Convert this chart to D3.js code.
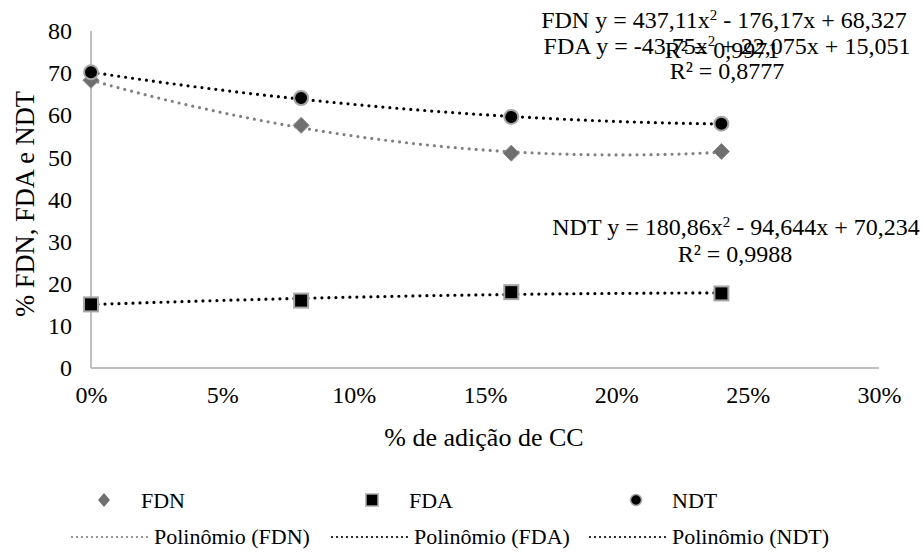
<!DOCTYPE html>
<html>
<head>
<meta charset="utf-8">
<script src="https://cdn.jsdelivr.net/npm/d3@7"></script>
<style>
body { margin: 0; background: #fff; }
.axis path, .axis line { stroke: #bfbfbf; stroke-width: 2; }
</style>
</head>
<body>
<div id="chart"></div>
<script>
/* data */
var doses = [0, 0.08, 0.16, 0.24];
var fdn = [68.3, 57.6, 51.0, 51.4];
var fda = [15.1, 16.0, 18.0, 17.7];
var ndt = [70.2, 64.1, 59.6, 58.0];

/* trendline coefficients as printed on the chart (a, b, c for ax2 + bx + c) */
var fdnCoef = [437.11, -176.17, 68.327];
var fdaCoef = [-43.75, 22.075, 15.051];
var ndtCoef = [180.86, -94.644, 70.234];

var fdnEq = ["FDN y = 437,11x", "2", " - 176,17x + 68,327"];
var fdaEq = ["FDA y = -43,75x", "2", " + 22,075x + 15,051"];
var ndtEq = ["NDT y = 180,86x", "2", " - 94,644x + 70,234"];
var r2Labels = ["R² = 0,9971", "R² = 0,8777", "R² = 0,9988"];

var xTicks = [0, 0.05, 0.10, 0.15, 0.20, 0.25, 0.30];
var yTicks = [0, 10, 20, 30, 40, 50, 60, 70, 80];

var w = 923;
var h = 555;

var svg = d3.select("#chart").append("svg").attr("width", w).attr("height", h);

var xScale = d3.scaleLinear()
	.domain([0, 0.30])
	.range([91, 879]);

var yScale = d3.scaleLinear()
	.domain([0, 80])
	.range([368, 31]);

/* axes */
var xAxis = d3.axisBottom(xScale).tickValues(xTicks).tickSize(0).tickPadding(18)
	.tickFormat(function (d) { return Math.round(d * 100) + "%"; });
var yAxis = d3.axisLeft(yScale).tickValues(yTicks).tickSize(0).tickPadding(19);

svg.append("g")
	.attr("class", "axis")
	.attr("transform", "translate(0," + yScale(0) + ")")
	.call(xAxis)
	.call(function (g) { g.select(".domain").attr("d", "M" + xScale(0) + ",0H" + xScale(0.30)); });

svg.append("g")
	.attr("class", "axis")
	.attr("transform", "translate(" + xScale(0) + ",0)")
	.call(yAxis)
	.call(function (g) { g.select(".domain").attr("d", "M0," + yScale(80) + "V" + yScale(0)); });

svg.selectAll(".axis").attr("font-family", "Liberation Serif").attr("font-size", 24);
svg.selectAll(".axis text").attr("fill", "#000");

/* axis titles */
svg.append("text")
	.attr("x", 484)
	.attr("y", 446)
	.attr("text-anchor", "middle")
	.attr("font-size", 26)
	.text("% de adição de CC");

svg.append("text")
	.attr("transform", "translate(34," + 204 + ") rotate(-90)")
	.attr("text-anchor", "middle")
	.attr("font-size", 26.5)
	.text("% FDN, FDA e NDT");

/* trendlines */
function poly(c) {
	return function (x) { return c[0] * x * x + c[1] * x + c[2]; };
}

var xs = d3.range(0, 0.2401, 0.004);

var trend = d3.line()
	.x(function (d) { return xScale(d[0]); })
	.y(function (d) { return yScale(d[1]); })
	.curve(d3.curveMonotoneX);

function drawTrend(coef, color) {
	var f = poly(coef);
	svg.append("path")
		.datum(xs.map(function (x) { return [x, f(x)]; }))
		.attr("d", trend)
		.attr("fill", "none")
		.attr("stroke", color)
		.attr("stroke-width", 3.2)
		.attr("stroke-linecap", "round")
		.attr("stroke-dasharray", "0 7");
}

drawTrend(fdnCoef, "#808080");
drawTrend(fdaCoef, "#000");
drawTrend(ndtCoef, "#000");

/* markers */
function pts(vals) {
	return vals.map(function (v, i) { return [doses[i], v]; });
}

svg.append("g").selectAll("path").data(pts(fdn)).enter()
	.append("path")
	.attr("transform", function (d) { return "translate(" + xScale(d[0]) + "," + yScale(d[1]) + ")"; })
	.attr("d", "M0,-8L8,0L0,8L-8,0Z")
	.attr("fill", "#6f6f6f")
	.attr("stroke", "#8a8a8a")
	.attr("stroke-width", 1);

svg.append("g").selectAll("rect").data(pts(fda)).enter()
	.append("rect")
	.attr("x", function (d) { return xScale(d[0]) - 7; })
	.attr("y", function (d) { return yScale(d[1]) - 7; })
	.attr("width", 14)
	.attr("height", 14)
	.attr("fill", "#000")
	.attr("stroke", "#a6a6a6")
	.attr("stroke-width", 2);

svg.append("g").selectAll("circle").data(pts(ndt)).enter()
	.append("circle")
	.attr("cx", function (d) { return xScale(d[0]); })
	.attr("cy", function (d) { return yScale(d[1]); })
	.attr("r", 7)
	.attr("fill", "#000")
	.attr("stroke", "#a6a6a6")
	.attr("stroke-width", 2);

/* equation labels */
function eqLabel(parts, x, y) {
	var t = svg.append("text")
		.attr("x", x)
		.attr("y", y)
		.attr("text-anchor", "middle")
		.attr("font-size", 24);
	t.append("tspan").text(parts[0]);
	t.append("tspan").attr("dy", -8).attr("font-size", 15).text(parts[1]);
	t.append("tspan").attr("dy", 8).text(parts[2]);
}

eqLabel(fdnEq, 724, 28);
eqLabel(fdaEq, 727, 54);
eqLabel(ndtEq, 736, 235);

var r2Pos = [[722, 58], [727, 79], [735, 262]];
svg.append("g").selectAll("text").data(r2Labels).enter()
	.append("text")
	.attr("x", function (d, i) { return r2Pos[i][0]; })
	.attr("y", function (d, i) { return r2Pos[i][1]; })
	.attr("text-anchor", "middle")
	.attr("font-size", 24)
	.text(function (d) { return d; });

/* legend */
var leg = svg.append("g");

leg.append("path")
	.attr("transform", "translate(104,500)")
	.attr("d", "M0,-7L6,0L0,7L-6,0Z")
	.attr("fill", "#6f6f6f");
leg.append("text").attr("x", 141).attr("y", 508).text("FDN");

leg.append("rect")
	.attr("x", 366).attr("y", 494).attr("width", 12).attr("height", 12)
	.attr("fill", "#000").attr("stroke", "#a6a6a6").attr("stroke-width", 1.5);
leg.append("text").attr("x", 409).attr("y", 508).text("FDA");

leg.append("circle")
	.attr("cx", 636).attr("cy", 500).attr("r", 5.5)
	.attr("fill", "#000").attr("stroke", "#a6a6a6").attr("stroke-width", 1.5);
leg.append("text").attr("x", 672).attr("y", 508).text("NDT");

var trendLeg = [["Polinômio (FDN)", "#808080", 72], ["Polinômio (FDA)", "#000", 332], ["Polinômio (NDT)", "#000", 590]];
trendLeg.forEach(function (d) {
	leg.append("line")
		.attr("x1", d[2]).attr("x2", d[2] + 78)
		.attr("y1", 537).attr("y2", 537)
		.attr("stroke", d[1])
		.attr("stroke-width", 2.2)
		.attr("stroke-linecap", "round")
		.attr("stroke-dasharray", "0 5");
	leg.append("text").attr("x", d[2] + 82).attr("y", 544).text(d[0]);
});

leg.selectAll("text").attr("font-size", 22);

/* serif font straight on each text node */
svg.selectAll("text").attr("font-family", "Liberation Serif").attr("fill", "#000");
</script>
</body>
</html>
